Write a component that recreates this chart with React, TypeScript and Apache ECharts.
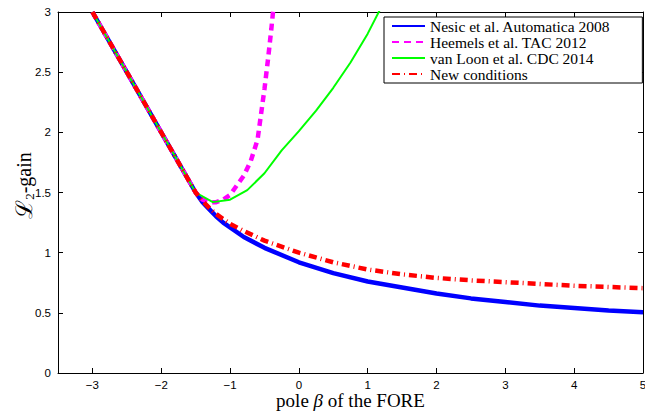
import React, { useEffect, useRef } from "react";
import * as echarts from "echarts";

// Data
const betaNesic = [-3, -2.5, -2, -1.5, -1.4, -1.3, -1.2, -1.1, -1, -0.8, -0.5, 0, 0.5, 1, 1.5, 2, 2.5, 3, 3.5, 4, 4.5, 5];
const gainNesic = [3, 2.5, 2, 1.5, 1.42, 1.36, 1.3, 1.25, 1.21, 1.13, 1.04, 0.92, 0.83, 0.76, 0.71, 0.66, 0.62, 0.59, 0.56, 0.54, 0.52, 0.505];

const betaHeemels = [-3, -2.5, -2, -1.5, -1.4, -1.3, -1.2, -1.1, -1.0, -0.9, -0.8, -0.7, -0.6, -0.5, -0.45, -0.4, -0.35];
const gainHeemels = [3, 2.5, 2, 1.5, 1.44, 1.42, 1.42, 1.44, 1.48, 1.56, 1.64, 1.76, 1.94, 2.36, 2.6, 2.86, 3.15];

const betaLoon = [-3, -2.5, -2, -1.5, -1.25, -1.0, -0.75, -0.5, -0.25, 0, 0.25, 0.5, 0.75, 1, 1.25];
const gainLoon = [3, 2.5, 2, 1.5, 1.42, 1.44, 1.52, 1.66, 1.85, 2.01, 2.18, 2.37, 2.58, 2.82, 3.1];

const betaNew = [-3, -2.5, -2, -1.5, -1.4, -1.3, -1.2, -1.1, -1, -0.8, -0.5, 0, 0.5, 1, 1.5, 2, 2.5, 3, 3.5, 4, 4.5, 5];
const gainNew = [3, 2.5, 2, 1.5, 1.43, 1.37, 1.32, 1.28, 1.24, 1.18, 1.1, 1.0, 0.92, 0.86, 0.82, 0.79, 0.77, 0.755, 0.74, 0.725, 0.715, 0.705];

const seriesNames = [
  "Nesic et al. Automatica 2008",
  "Heemels et al. TAC 2012",
  "van Loon et al. CDC 2014",
  "New conditions",
];

const xMin = -3.5;
const xMax = 5;
const yMin = 0;
const yMax = 3;

const zip = (xs: number[], ys: number[]) => xs.map((x, i) => [x, ys[i]]);

const SERIF = "'Liberation Serif','DejaVu Serif',serif";
const SANS = "'Liberation Sans',Arial,sans-serif";

const fmtX = (v: number) => (Number.isInteger(v) ? String(v).replace("-", "\u2212") : "");
const fmtY = (v: number) => String(v);

export default function App() {
  const ref = useRef<HTMLDivElement>(null);
  useEffect(() => {
    if (!ref.current) return;
    const chart = echarts.init(ref.current, undefined, { renderer: "svg" });
    const axisCommon = {
      type: "value" as const,
      splitLine: { show: false },
      axisLine: { show: true, onZero: false, lineStyle: { color: "#000", width: 1 } },
      axisTick: { show: true, inside: true, length: 5, lineStyle: { color: "#000", width: 1 } },
    };
    chart.setOption({
      animation: false,
      backgroundColor: "#fff",
      grid: { left: 58, right: 2, top: 12, bottom: 39, containLabel: false, outerBoundsMode: "none" },
      xAxis: [
        {
          ...axisCommon,
          position: "bottom",
          min: xMin,
          max: xMax,
          splitNumber: 8,
          minInterval: 1,
          maxInterval: 1,
          axisLabel: { formatter: fmtX, color: "#000", fontFamily: SANS, fontSize: 11.5, lineHeight: 12, margin: 6 },
          name: "{r|pole }{i|\u03B2}{r| of the FORE}",
          nameLocation: "middle",
          nameGap: 20,
          nameMoveOverlap: false,
          nameTextStyle: {
            rich: {
              r: { fontFamily: SERIF, fontSize: 19, color: "#000", lineHeight: 15 },
              i: { fontFamily: SERIF, fontSize: 19, fontStyle: "italic", color: "#000", lineHeight: 15 },
            },
          },
        },
        {
          ...axisCommon,
          position: "top",
          min: xMin,
          max: xMax,
          splitNumber: 8,
          minInterval: 1,
          maxInterval: 1,
          axisLabel: { show: false },
        },
      ],
      yAxis: [
        {
          ...axisCommon,
          position: "left",
          min: yMin,
          max: yMax,
          interval: 0.5,
          axisLabel: { formatter: fmtY, color: "#000", fontFamily: SANS, fontSize: 11.5, margin: 7 },
          name: "{L|\u2112}{s|2}{r|-gain}",
          nameLocation: "middle",
          nameGap: 22,
          nameRotate: 90,
          nameMoveOverlap: false,
          nameTextStyle: {
            padding: [0, 0, 0, 14],
            rich: {
              L: { fontFamily: SERIF, fontSize: 23, color: "#000", lineHeight: 24 },
              r: { fontFamily: SERIF, fontSize: 20, color: "#000", lineHeight: 24 },
              s: { fontFamily: SERIF, fontSize: 13, color: "#000", verticalAlign: "bottom", lineHeight: 13 },
            },
          },
        },
        {
          ...axisCommon,
          position: "right",
          min: yMin,
          max: yMax,
          interval: 0.5,
          axisLabel: { show: false },
        },
      ],
      legend: {
        orient: "vertical",
        left: 384,
        top: 17,
        padding: [1, 32, 1, 7],
        itemGap: 0,
        itemWidth: 33,
        itemHeight: 13,
        backgroundColor: "#fff",
        borderColor: "#000",
        borderWidth: 1,
        borderRadius: 0,
        z: 10,
        itemStyle: { opacity: 0 },
        textStyle: { fontFamily: SERIF, fontSize: 15.5, color: "#000", lineHeight: 13 },
        data: seriesNames,
      },
      series: [
        {
          type: "line",
          name: seriesNames[0],
          data: zip(betaNesic, gainNesic),
          symbol: "none",
          showSymbol: false,
          clip: true,
          lineStyle: { color: "#0000ff", width: 4.5 },
          itemStyle: { color: "#0000ff" },
          z: 2,
        },
        {
          type: "line",
          name: seriesNames[1],
          data: zip(betaHeemels, gainHeemels),
          symbol: "none",
          showSymbol: false,
          clip: true,
          lineStyle: { color: "#ff00ff", width: 4.5, type: [7, 5] },
          itemStyle: { color: "#ff00ff" },
          z: 3,
        },
        {
          type: "line",
          name: seriesNames[2],
          data: zip(betaLoon, gainLoon),
          symbol: "none",
          showSymbol: false,
          clip: true,
          lineStyle: { color: "#00ff00", width: 2 },
          itemStyle: { color: "#00ff00" },
          z: 4,
        },
        {
          type: "line",
          name: seriesNames[3],
          data: zip(betaNew, gainNew),
          symbol: "none",
          showSymbol: false,
          clip: true,
          lineStyle: { color: "#ff0000", width: 4.5, type: [8, 4, 1, 4] },
          itemStyle: { color: "#ff0000" },
          z: 5,
        },
      ],
    });
    return () => chart.dispose();
  }, []);
  return <div ref={ref} style={{ width: 645, height: 412, position: "absolute", left: 0, top: 0 }} />;
}
